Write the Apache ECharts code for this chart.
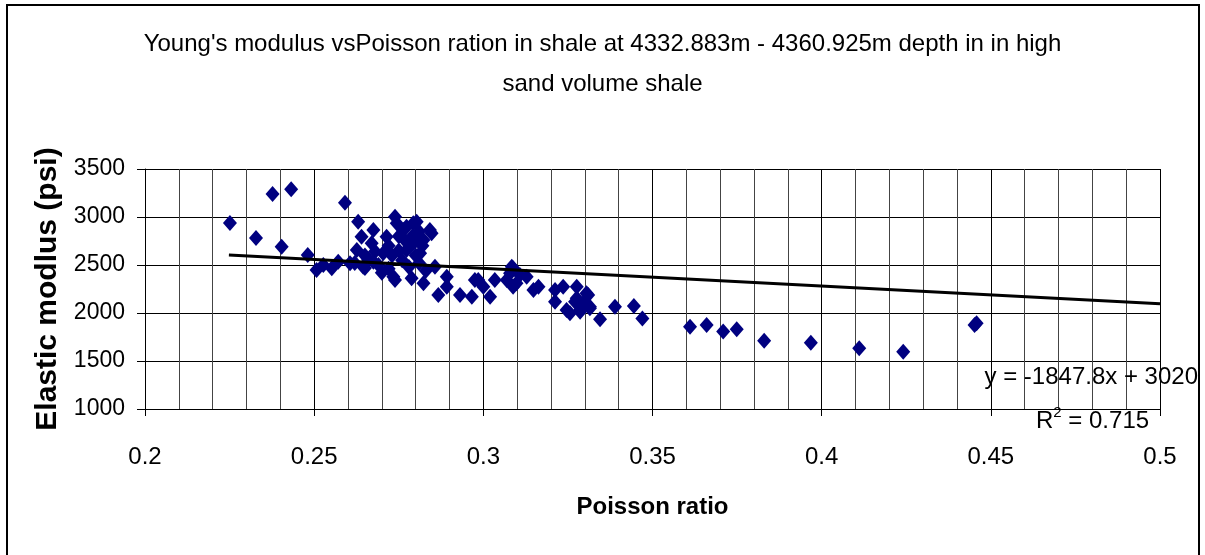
<!DOCTYPE html>
<html>
<head>
<meta charset="utf-8">
<script src="https://cdn.jsdelivr.net/npm/echarts@6/dist/echarts.min.js"></script>
<style>
html,body{margin:0;padding:0;background:#fff;}
#chart{width:1205px;height:555px;}
</style>
</head>
<body>
<div id="chart"></div>
<script>
// ---- data ----
const titleLines = [
  "Young's modulus vsPoisson ration in shale at 4332.883m - 4360.925m depth in in high",
  "sand volume shale"
];
const xAxisName = "Poisson ratio";
const yAxisName = "Elastic modlus (psi)";
const xTicks = { min: 0.2, max: 0.5, step: 0.05 };
const yTicks = { min: 1000, max: 3500, step: 500 };

const poisson = [
  0.2251, 0.2328, 0.2377, 0.2432, 0.2404, 0.2481, 0.2591, 0.2630,
  0.2507, 0.2527, 0.2552, 0.2571, 0.2606, 0.2626, 0.2640, 0.2645, 0.2675, 0.2670, 0.2675, 0.2714,
  0.2704, 0.2739, 0.2734, 0.2739, 0.2764, 0.2773, 0.2788, 0.2793, 0.2803,
  0.2744, 0.2773, 0.2803, 0.2842, 0.2823, 0.2847, 0.2783, 0.2813, 0.2823, 0.2857, 0.2892,
  0.2867, 0.2892, 0.2931, 0.2966, 0.2975, 0.3000, 0.3020, 0.3034, 0.3084, 0.3088,
  0.3108, 0.3128, 0.3069, 0.3148, 0.3163, 0.3212, 0.3212,
  0.2985, 0.3079, 0.3088, 0.3098, 0.3236, 0.3276, 0.3305, 0.3246, 0.3271, 0.3286, 0.3315, 0.3345, 0.3389,
  0.3256, 0.3286, 0.3310, 0.3315, 0.3295, 0.3276, 0.3445, 0.3470,
  0.3611, 0.3660, 0.3709, 0.3749, 0.3830, 0.3968, 0.4111, 0.4241, 0.4458, 0.4452,
  0.2660, 0.2690, 0.2720, 0.2730, 0.2750, 0.2760, 0.2780, 0.2800, 0.2810, 0.2820,
  0.2770, 0.2720, 0.2700, 0.2750, 0.2790, 0.2650, 0.2680, 0.2810, 0.2830, 0.2620, 0.2650
];
const elastic = [
  2937, 2781, 3240, 3289, 2690, 2604, 3149, 2951,
  2448, 2500, 2465, 2534, 2517, 2656, 2795, 2483, 2865, 2726, 2534, 2795,
  2622, 3003, 2378, 2344, 2865, 2656, 2361, 2934, 2760,
  2934, 2899, 2951, 2865, 2760, 2830, 2690, 2622, 2309, 2483, 2274,
  2188, 2378, 2188, 2170, 2344, 2274, 2170, 2344, 2483, 2274,
  2396, 2378, 2344, 2240, 2274, 2240, 2118,
  2344, 2413, 2465, 2309, 2274, 2274, 2205, 2031, 2118, 2031, 2066, 1935, 2066,
  1997, 2014, 2188, 2049, 2101, 2153, 2073, 1944,
  1858, 1875, 1806, 1830, 1712, 1691, 1632, 1597, 1893, 1875,
  2560, 2500, 2700, 2600, 2800, 2550, 2480, 2600, 2850, 2700,
  2750, 2460, 2420, 2650, 2800, 2600, 2640, 2520, 2440, 2520, 2470
];

// linear trendline shown on the chart
const trend = { slope: -1847.8, intercept: 3020, xStart: 0.2248, xEnd: 0.5 };
const equationText = "y = -1847.8x + 3020";
const r2Value = "0.715";

// ---- build ----
const points = poisson.map((x, i) => [x, elastic[i]]);
const trendData = [trend.xStart, trend.xEnd].map(x => [x, trend.slope * x + trend.intercept]);

const FONT = "'Liberation Sans', Arial, sans-serif";
const chart = echarts.init(document.getElementById('chart'), null, { renderer: 'canvas' });

chart.setOption({
  backgroundColor: '#ffffff',
  animation: false,
  title: {
    text: titleLines.join('\n'),
    left: 'center',
    top: 19,
    textStyle: { fontFamily: FONT, fontSize: 24, fontWeight: 'normal', color: '#000', lineHeight: 40 }
  },
  grid: { left: 145, right: 45, top: 169, bottom: 146, containLabel: false },
  xAxis: {
    type: 'value',
    min: xTicks.min, max: xTicks.max, interval: xTicks.step,
    name: xAxisName,
    nameLocation: 'middle',
    nameGap: 86,
    nameTextStyle: { fontFamily: FONT, fontSize: 24, fontWeight: 'bold', color: '#000' },
    axisLine: { show: true, onZero: false, lineStyle: { color: '#000', width: 1 } },
    axisTick: { show: true, length: 7, lineStyle: { color: '#000' } },
    axisLabel: { margin: 36, fontFamily: FONT, fontSize: 24, color: '#000', formatter: v => String(+v.toFixed(2)) },
    splitLine: { show: true, lineStyle: { color: '#000', width: 1 } },
    minorTick: { show: false, splitNumber: 5 },
    minorSplitLine: { show: true, lineStyle: { color: '#444', width: 1 } }
  },
  yAxis: {
    type: 'value',
    min: yTicks.min, max: yTicks.max, interval: yTicks.step,
    name: yAxisName,
    nameLocation: 'middle',
    nameGap: 73,
    nameRotate: 90,
    nameTextStyle: { fontFamily: FONT, fontSize: 30, fontWeight: 'bold', color: '#000' },
    axisLine: { show: true, onZero: false, lineStyle: { color: '#000', width: 1 } },
    axisTick: { show: true, length: 8, lineStyle: { color: '#000' } },
    axisLabel: { margin: 20, fontFamily: FONT, fontSize: 23, color: '#000', formatter: v => String(v) },
    splitLine: { show: true, lineStyle: { color: '#000', width: 1 } }
  },
  series: [
    {
      type: 'scatter',
      data: points,
      symbol: 'diamond',
      symbolSize: [14, 16],
      itemStyle: { color: '#000080', opacity: 1 },
      z: 3
    },
    {
      type: 'line',
      data: trendData,
      symbol: 'none',
      lineStyle: { color: '#000', width: 3 },
      z: 4,
      silent: true
    }
  ],
  graphic: [
    {
      type: 'rect',
      shape: { x: 7, y: 5, width: 1192, height: 560 },
      style: { fill: 'none', stroke: '#000', lineWidth: 2 },
      silent: true, z: 100
    },
    {
      type: 'text',
      right: 7, top: 365,
      style: { text: equationText, font: "24px 'Liberation Sans', Arial, sans-serif", fill: '#000' },
      z: 100
    },
    {
      type: 'text',
      left: 1036, top: 405,
      style: {
        text: '{a|R}{s|2}{a| = ' + r2Value + '}',
        rich: {
          a: { fontFamily: FONT, fontSize: 24, fill: '#000', verticalAlign: 'bottom', lineHeight: 28 },
          s: { fontFamily: FONT, fontSize: 15, fill: '#000', verticalAlign: 'top', lineHeight: 28 }
        }
      },
      z: 100
    }
  ]
});
</script>
</body>
</html>
